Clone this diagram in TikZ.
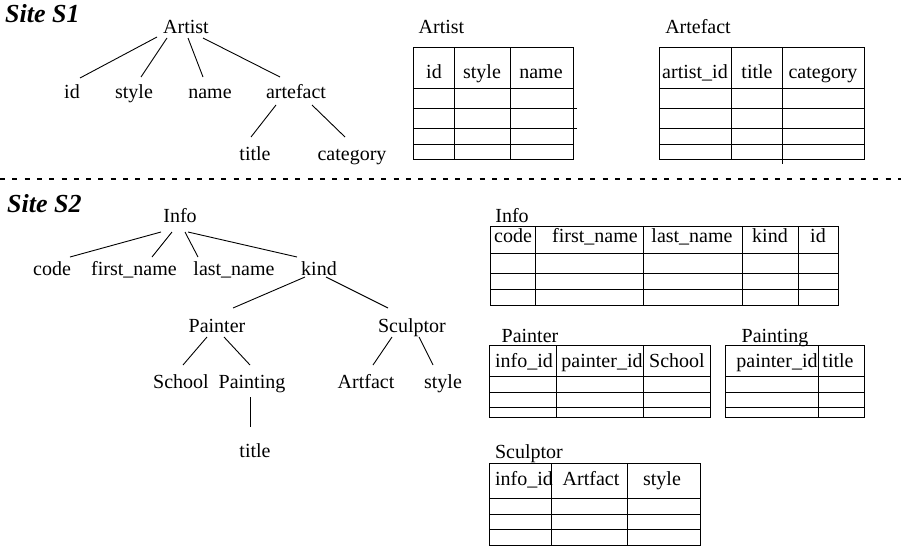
\documentclass[tikz,border=0pt]{standalone}
\usepackage{fontspec}
\setmainfont{Liberation Serif}

% relation table: left, top, right, bottom, column rules, row rules
\newcommand{\reltable}[6]{%
  \draw[grid] (#1,#2) rectangle (#3,#4);
  \foreach \c in {#5} \draw[grid] (\c,#2) -- (\c,#4);
  \foreach \r in {#6} \draw[grid] (#1,\r) -- (#3,\r);}

\begin{document}
\begin{tikzpicture}[x=1pt,y=-1pt,
  lbl/.style={inner sep=0pt, text height=13.2pt, text depth=0pt,
              font=\fontsize{20}{24}\selectfont},
  site/.style={anchor=base west, inner sep=0pt,
               font=\fontsize{26}{30}\selectfont\bfseries\itshape},
  branch/.style={line width=0.9pt},
  grid/.style={line width=1pt},
  divider/.style={line width=1.5pt, dash pattern=on 5pt off 7.3pt}]
\useasboundingbox (0,0) rectangle (901,546);

% ---------------- Site S1 ----------------
\node[site] (siteA) at (5,22) {Site S1};

% XML tree of site S1
\node[lbl] (artist)   at (186,26.5)  {Artist};
\node[lbl] (id)       at (72,91.4)   {id};
\node[lbl] (sAstyle)  at (134,91.4)  {style};
\node[lbl] (name)     at (210,91.4)  {name};
\node[lbl] (artefact) at (296,91.4)  {artefact};
\node[lbl] (sAtitle)  at (255,153.4) {title};
\node[lbl] (category) at (352,153.4) {category};

\draw[branch] ([shift={(-29,10.5)}]artist.center) -- ([shift={(8,-13.4)}]id.center);
\draw[branch] ([shift={(-19,11.5)}]artist.center) -- ([shift={(7,-14.4)}]sAstyle.center);
\draw[branch] ([shift={(2,11.5)}]artist.center)   -- ([shift={(-7,-14.4)}]name.center);
\draw[branch] ([shift={(17,11.5)}]artist.center)  -- ([shift={(-16,-14.4)}]artefact.center);
\draw[branch] ([shift={(-20,13.6)}]artefact.center) -- ([shift={(-4,-16.4)}]sAtitle.center);
\draw[branch] ([shift={(16,13.6)}]artefact.center)  -- ([shift={(-7,-16.4)}]category.center);

% relational tables of site S1
\node[lbl] (tArtist) at (441.5,26.5) {Artist};
\reltable{413}{47}{573}{159}{454,510}{88,144}
\draw[grid] (413,108) -- (577,108);
\draw[grid] (413,128) -- (577,128);
\node[lbl] at (434,71.4) {id};
\node[lbl] at (482,71.4) {style};
\node[lbl] at (541,71.4) {name};

\node[lbl] (tArtefact) at (698,26.5) {Artefact};
\reltable{659}{47}{864}{159}{731}{88,108,128,144}
\draw[grid] (782,47) -- (782,164);
\node[lbl] at (695,71.4) {artist\_id};
\node[lbl] at (757,71.4) {title};
\node[lbl] at (823,71.4) {category};

% separator between the two sites
\draw[divider] (0,179) -- (901,179);

% ---------------- Site S2 ----------------
\node[site] (siteB) at (7,212) {Site S2};

% XML tree of site S2
\node[lbl] (info)      at (180,215.4) {Info};
\node[lbl] (code)      at (52,268.4)  {code};
\node[lbl] (firstname) at (134,268.4) {first\_name};
\node[lbl] (lastname)  at (234,268.4) {last\_name};
\node[lbl] (kind)      at (319,268.4) {kind};
\node[lbl] (painter)   at (217,325.4) {Painter};
\node[lbl] (sculptor)  at (412,325.4) {Sculptor};
\node[lbl] (school)    at (181,381.4) {School};
\node[lbl] (painting)  at (252,381.4) {Painting};
\node[lbl] (artfact)   at (366,381.4) {Artfact};
\node[lbl] (sBstyle)   at (443,381.4) {style};
\node[lbl] (sBtitle)   at (255,450.4) {title};

\draw[branch] ([shift={(-19,16.6)}]info.center) -- ([shift={(18,-11.4)}]code.center);
\draw[branch] ([shift={(-8,16.6)}]info.center)  -- ([shift={(18,-11.4)}]firstname.center);
\draw[branch] ([shift={(5,16.6)}]info.center)   -- ([shift={(-36,-11.4)}]lastname.center);
\draw[branch] ([shift={(8,16.6)}]info.center)   -- ([shift={(-22,-11.4)}]kind.center);
\draw[branch] ([shift={(-14,8.6)}]kind.center)  -- ([shift={(16,-17.4)}]painter.center);
\draw[branch] ([shift={(7,8.6)}]kind.center)    -- ([shift={(-24,-17.4)}]sculptor.center);
\draw[branch] ([shift={(-10,11.6)}]painter.center) -- ([shift={(2,-16.4)}]school.center);
\draw[branch] ([shift={(7,11.6)}]painter.center)   -- ([shift={(-2,-16.4)}]painting.center);
\draw[branch] ([shift={(-20,11.6)}]sculptor.center) -- ([shift={(7,-16.4)}]artfact.center);
\draw[branch] ([shift={(7,11.6)}]sculptor.center)   -- ([shift={(-10,-16.4)}]sBstyle.center);
\draw[branch] ([shift={(-2,15.6)}]painting.center)  -- ([shift={(-5,-23.4)}]sBtitle.center);

% relational tables of site S2
\node[lbl] (tInfo) at (512,215.4) {Info};
\reltable{490}{226}{838}{305}{535,643,742,798}{253,273,289}
\node[lbl] at (513,235.4) {code};
\node[lbl] at (595,235.4) {first\_name};
\node[lbl] at (692,235.4) {last\_name};
\node[lbl] at (770,235.4) {kind};
\node[lbl] at (818,235.4) {id};

\node[lbl] (tPainter) at (530,335.4) {Painter};
\reltable{489}{345}{710}{417}{556,643}{376,392,407}
\node[lbl] at (524,360.4) {info\_id};
\node[lbl] at (602,360.4) {painter\_id};
\node[lbl] at (677,360.4) {School};

\node[lbl] (tPainting) at (775,335.4) {Painting};
\reltable{725}{345}{864}{417}{818}{376,392,407}
\node[lbl] at (777,360.4) {painter\_id};
\node[lbl] at (838,360.4) {title};

\node[lbl] (tSculptor) at (529,451.4) {Sculptor};
\reltable{489}{463}{700}{545}{551,627}{498,514,529}
\node[lbl] at (524,478.4) {info\_id};
\node[lbl] at (591,478.4) {Artfact};
\node[lbl] at (662,478.4) {style};
\end{tikzpicture}
\end{document}
